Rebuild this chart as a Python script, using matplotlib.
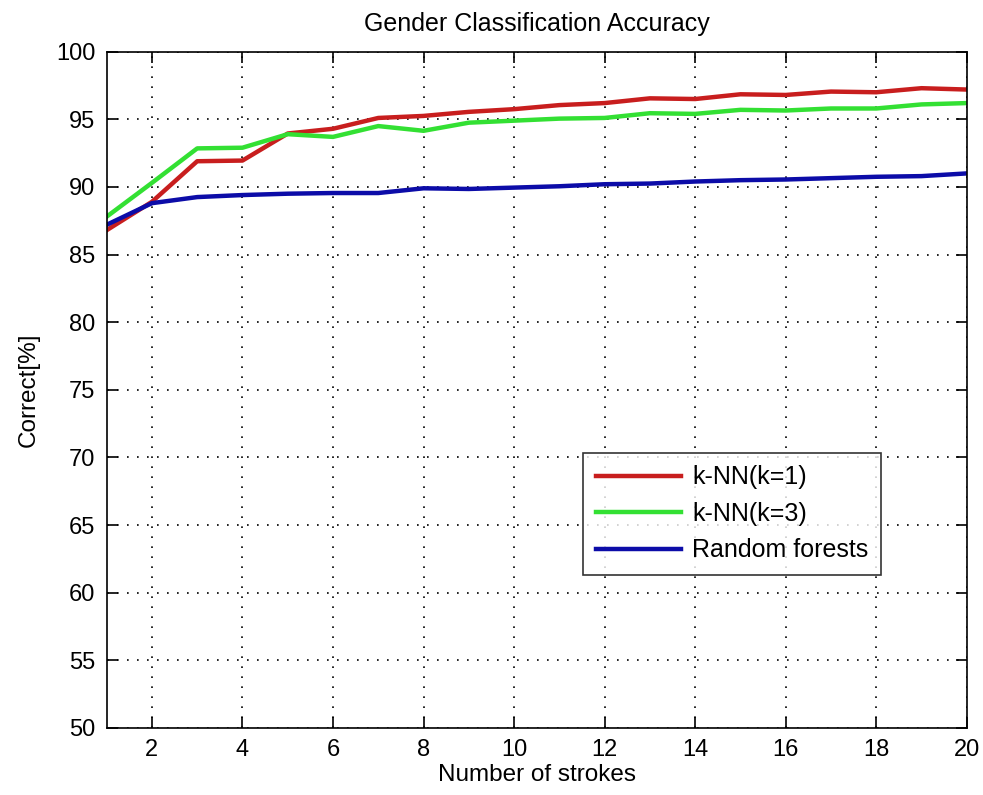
import matplotlib
matplotlib.use("Agg")
import matplotlib.pyplot as plt

plt.rcParams['font.family'] = ['Liberation Sans', 'DejaVu Sans']

strokes = list(range(1, 21))
knn1 = [86.8, 88.9, 91.9, 91.95, 93.95, 94.3, 95.1, 95.25, 95.55, 95.75,
        96.05, 96.2, 96.55, 96.5, 96.85, 96.8, 97.05, 97.0, 97.3, 97.2]
knn3 = [87.8, 90.3, 92.85, 92.9, 93.9, 93.7, 94.5, 94.15, 94.75, 94.9,
        95.05, 95.1, 95.45, 95.4, 95.7, 95.65, 95.8, 95.8, 96.1, 96.2]
rf = [87.2, 88.8, 89.25, 89.4, 89.5, 89.55, 89.55, 89.9, 89.85, 89.95,
      90.05, 90.2, 90.25, 90.4, 90.5, 90.55, 90.65, 90.75, 90.8, 91.0]
labels = ['k-NN(k=1)', 'k-NN(k=3)', 'Random forests']
colors = ['#c81e1e', '#33e033', '#0c0ca8']

fig = plt.figure(figsize=(9.83, 7.95), dpi=100)
ax = fig.add_axes([0.1085, 0.0843, 0.875, 0.8507])

for y, lab, c in zip([knn1, knn3, rf], labels, colors):
    ax.plot(strokes, y, color=c, lw=3.2, label=lab)

ax.set_xlim(1, 20)
ax.set_ylim(50, 100)
ax.set_xticks(range(2, 21, 2))
ax.set_yticks(range(50, 101, 5))
ax.tick_params(direction='in', length=8, width=1.2, top=True, right=True,
               labelsize=17, pad=8)
ax.grid(True, color='black', linestyle=(0, (1, 5)), linewidth=1.2)
for s in ax.spines.values():
    s.set_linewidth(1.2)

ax.set_title('Gender Classification Accuracy', fontsize=18, pad=15)
ax.set_xlabel('Number of strokes', fontsize=17.5, labelpad=2)
ax.set_ylabel('Correct[%]', fontsize=17.5, labelpad=12)

leg = ax.legend(loc='upper left', bbox_to_anchor=(0.554, 0.4066),
                fontsize=18, frameon=True, fancybox=False, edgecolor='black',
                handlelength=3.4, handletextpad=0.45, borderpad=0.5,
                labelspacing=0.5, borderaxespad=0)
leg.get_frame().set_linewidth(1.2)

fig.savefig('out.png', dpi=100)
